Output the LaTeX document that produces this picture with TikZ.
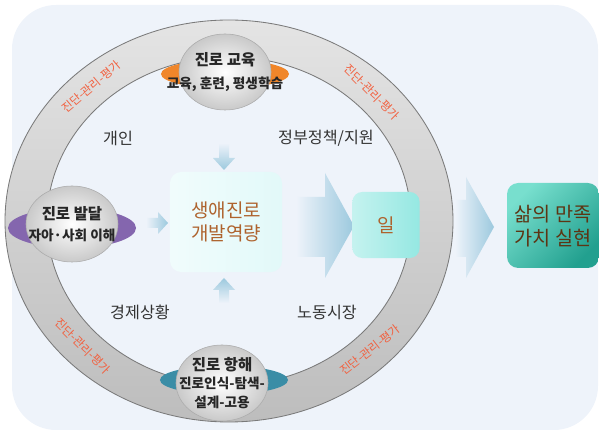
\documentclass[tikz,border=0pt]{standalone}
\usepackage{fontspec}
\setmainfont{Noto Sans CJK KR}
\usetikzlibrary{shapes.geometric, positioning}

\definecolor{bgblue}{HTML}{EEF3FA}
\definecolor{ringlight}{HTML}{E4E4E4}
\definecolor{ringdark}{HTML}{BDBDBD}
\definecolor{ringline}{HTML}{7A7A7A}
\definecolor{lensorange}{HTML}{F0862A}
\definecolor{lenspurple}{HTML}{8466AE}
\definecolor{lensteal}{HTML}{3A8DA6}
\definecolor{diagred}{HTML}{F2603F}
\definecolor{txtbrown}{HTML}{AE632E}
\definecolor{txtdark}{RGB}{92,53,20}
\definecolor{arrowblue}{HTML}{9CC9DE}
\definecolor{boxpale}{HTML}{E2F9F9}
\definecolor{boxaqua}{HTML}{95E8E2}
\definecolor{boxteal}{HTML}{22A08F}
\definecolor{boxtealL}{HTML}{78DFCE}

\newcommand{\subline}{\fontsize{9.7}{12}\selectfont}

\begin{document}
\begin{tikzpicture}[x=0.025cm, y=-0.025cm,
    stage/.style={ellipse, draw=gray!65, inner color=white, outer color=gray!42, minimum width=2.3cm, minimum height=1.9cm, inner sep=0pt},
    stagetext/.style={font=\bfseries\fontsize{11}{13}\selectfont, text=black!85, align=center, inner sep=0pt},
    lens/.style={ellipse, minimum width=3.2cm, minimum height=0.72cm, inner sep=0pt},
    side/.style={font=\fontsize{11.5}{14}\selectfont, text=black!80},
    diag/.style={font=\fontsize{8.3}{10}\selectfont, text=diagred, inner sep=0pt},
    corebox/.style={rounded corners=8pt, minimum width=2.8cm, minimum height=2.5cm, left color=boxpale!50!white, right color=boxpale, text=txtbrown, font=\fontsize{13.5}{16}\selectfont, align=center}
]
\useasboundingbox (0,0) rectangle (599,431);

% Background panel
\fill[bgblue, rounded corners=1.1cm] (12,5) rectangle (598,430);

% Gray ring
\shade[top color=ringlight, bottom color=ringdark, even odd rule] (229,221) ellipse [x radius=224, y radius=201] (229,221) ellipse [x radius=182, y radius=164];
\draw[ringline, line width=0.6pt] (229,221) ellipse [x radius=224, y radius=201];
\draw[ringline, line width=0.6pt] (229,221) ellipse [x radius=182, y radius=164];

% Teal end box (shaded first, text comes last)
\shade[rounded corners=8pt, top color=boxtealL, bottom color=boxteal, shading angle=45] (507,183) rectangle (599,268);

% Ring labels
\node[diag, rotate=40] (diagTL) at (91,87) {진단-관리-평가};
\node[diag, rotate=-45] (diagTR) at (372,92) {진단-관리-평가};
\node[diag, rotate=-45] (diagBL) at (83,346) {진단-관리-평가};
\node[diag, rotate=38] (diagBR) at (370,350) {진단-관리-평가};

% Stages sitting on the ring
\node[lens, fill=lensorange] (eduLens) at (225,74) {};
\node[stage] (edu) at (225,72) {};
\node[stagetext] at (edu) {진로 교육\\[3pt]{\subline 교육, 훈련, 평생학습}};

\node[lens, fill=lenspurple, minimum height=1cm] (devLens) at (72,228) {};
\node[stage] (dev) at (72,224) {};
\node[stagetext] at (dev) {진로 발달\\[2pt]{\subline 자아·사회 이해}};

\node[lens, fill=lensteal] (navLens) at (224,380) {};
\node[stage] (nav) at (222,383) {};
\node[stagetext] at (nav) {진로 항해\\{\subline 진로인식-탐색-}\\{\subline 설계-고용}};

% Surrounding factors
\node[side] (person) at (118,138) {개인};
\node[side] (policy) at (326,138) {정부정책/지원};
\node[side] (economy) at (140,312) {경제상황};
\node[side] (labor) at (327,312) {노동시장};

% Small arrows into the core
\shade[top color=bgblue, bottom color=arrowblue] (219,143) -- (229,143) -- (229,158) -- (235,158) -- (224,170) -- (213,158) -- (219,158) -- cycle;
\shade[left color=bgblue, right color=arrowblue] (146,218) -- (158,218) -- (158,212) -- (168,223) -- (158,234) -- (158,228) -- (146,228) -- cycle;
\shade[top color=arrowblue, bottom color=bgblue] (224,278) -- (235,290) -- (229,290) -- (229,303) -- (219,303) -- (219,290) -- (213,290) -- cycle;

% Big arrows
\shade[left color=bgblue, right color=arrowblue] (296,197) -- (325,197) -- (325,173) -- (354,226) -- (325,278) -- (325,257) -- (296,257) -- cycle;
\shade[left color=bgblue, right color=arrowblue] (455,200) -- (466,200) -- (466,177) -- (494,227) -- (466,278) -- (466,257) -- (455,257) -- cycle;

% Boxes
\node[corebox] (core) at (226,222) {생애진로\\개발역량};
\node[corebox, minimum width=1.68cm, minimum height=1.65cm, rounded corners=7pt, left color=boxaqua!55!white, right color=boxaqua] (work) at (386,225) {일};
\node[font=\fontsize{14}{17}\selectfont, align=center, minimum width=2.3cm, minimum height=2.13cm] (life) at (553,226) {\color{txtdark}삶의 만족\\\color{txtdark}가치 실현};
\end{tikzpicture}
\end{document}
